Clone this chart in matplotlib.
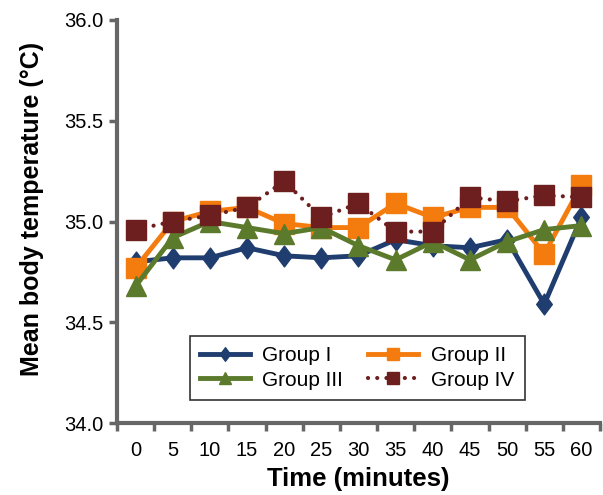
import matplotlib.pyplot as plt
from matplotlib.path import Path
import numpy as np

plt.rcParams['font.family'] = ['Liberation Sans', 'DejaVu Sans']

times = ['0', '5', '10', '15', '20', '25', '30', '35', '40', '45', '50', '55', '60']
group_1 = [34.80, 34.82, 34.82, 34.87, 34.83, 34.82, 34.83, 34.91, 34.88, 34.87, 34.91, 34.59, 35.02]
group_2 = [34.77, 35.00, 35.05, 35.07, 34.99, 34.97, 34.97, 35.09, 35.02, 35.07, 35.07, 34.84, 35.18]
group_3 = [34.68, 34.92, 35.00, 34.97, 34.94, 34.97, 34.88, 34.81, 34.90, 34.81, 34.90, 34.96, 34.98]
group_4 = [34.96, 35.00, 35.03, 35.07, 35.20, 35.02, 35.09, 34.95, 34.95, 35.12, 35.10, 35.13, 35.12]

fig = plt.figure(figsize=(6.03, 4.95), dpi=100)
ax = fig.add_axes([0.194, 0.145, 0.801, 0.815])

# slightly narrow diamond like the original
diamond = Path([(0, 1), (0.75, 0), (0, -1), (-0.75, 0), (0, 1)],
               [Path.MOVETO, Path.LINETO, Path.LINETO, Path.LINETO, Path.CLOSEPOLY])

x = np.arange(len(times))
l1, = ax.plot(x, group_1, color='#1f3d6e', lw=3.5, marker=diamond, ms=15, label='Group I')
l2, = ax.plot(x, group_2, color='#f47b0e', lw=3.5, marker='s', ms=14, label='Group II')
l3, = ax.plot(x, group_3, color='#5b7a2c', lw=3.5, marker='^', ms=14, label='Group III')
l4, = ax.plot(x, group_4, color='#6d1f1f', lw=3, ls=(0, (0.01, 2.2)), dash_capstyle='round',
              marker='s', ms=14, label='Group IV')

ax.set_xlim(-0.5, len(times) - 0.5)
ax.set_ylim(34.0, 36.0)
ax.set_xticks(x)
ax.set_xticklabels(times)
ax.set_xticks(np.arange(-0.5, len(times)), minor=True)
ax.tick_params(axis='x', which='major', length=0, labelsize=14.5, pad=13)
ax.tick_params(axis='x', which='minor', length=6, width=2.5, color='#666666')
ax.set_yticks(np.arange(34.0, 36.01, 0.5))
ax.set_yticklabels(['%.1f' % v for v in np.arange(34.0, 36.01, 0.5)])
ax.tick_params(axis='y', length=6, width=2.5, color='#666666', labelsize=14.5)

for s in ['top', 'right']:
    ax.spines[s].set_visible(False)
for s in ['left', 'bottom']:
    ax.spines[s].set_color('#666666')
    ax.spines[s].set_linewidth(3)

ax.set_xlabel('Time (minutes)', fontsize=18.5, fontweight='bold')
ax.xaxis.set_label_coords(0.5, -0.108)
ax.set_ylabel('Mean body temperature (°C)', fontsize=18, fontweight='bold')
ax.yaxis.set_label_coords(-0.152, 0.53)

leg = ax.legend([l1, l3, l2, l4], ['Group I', 'Group III', 'Group II', 'Group IV'],
                ncol=2, loc='center', bbox_to_anchor=(0.497, 0.137),
                fontsize=15, frameon=True, fancybox=False, edgecolor='black',
                handlelength=2.4, markerscale=0.65, columnspacing=1.2,
                borderpad=0.5, labelspacing=0.25, handletextpad=0.6)
leg.get_frame().set_linewidth(1.2)

fig.savefig('out.png', dpi=100)
